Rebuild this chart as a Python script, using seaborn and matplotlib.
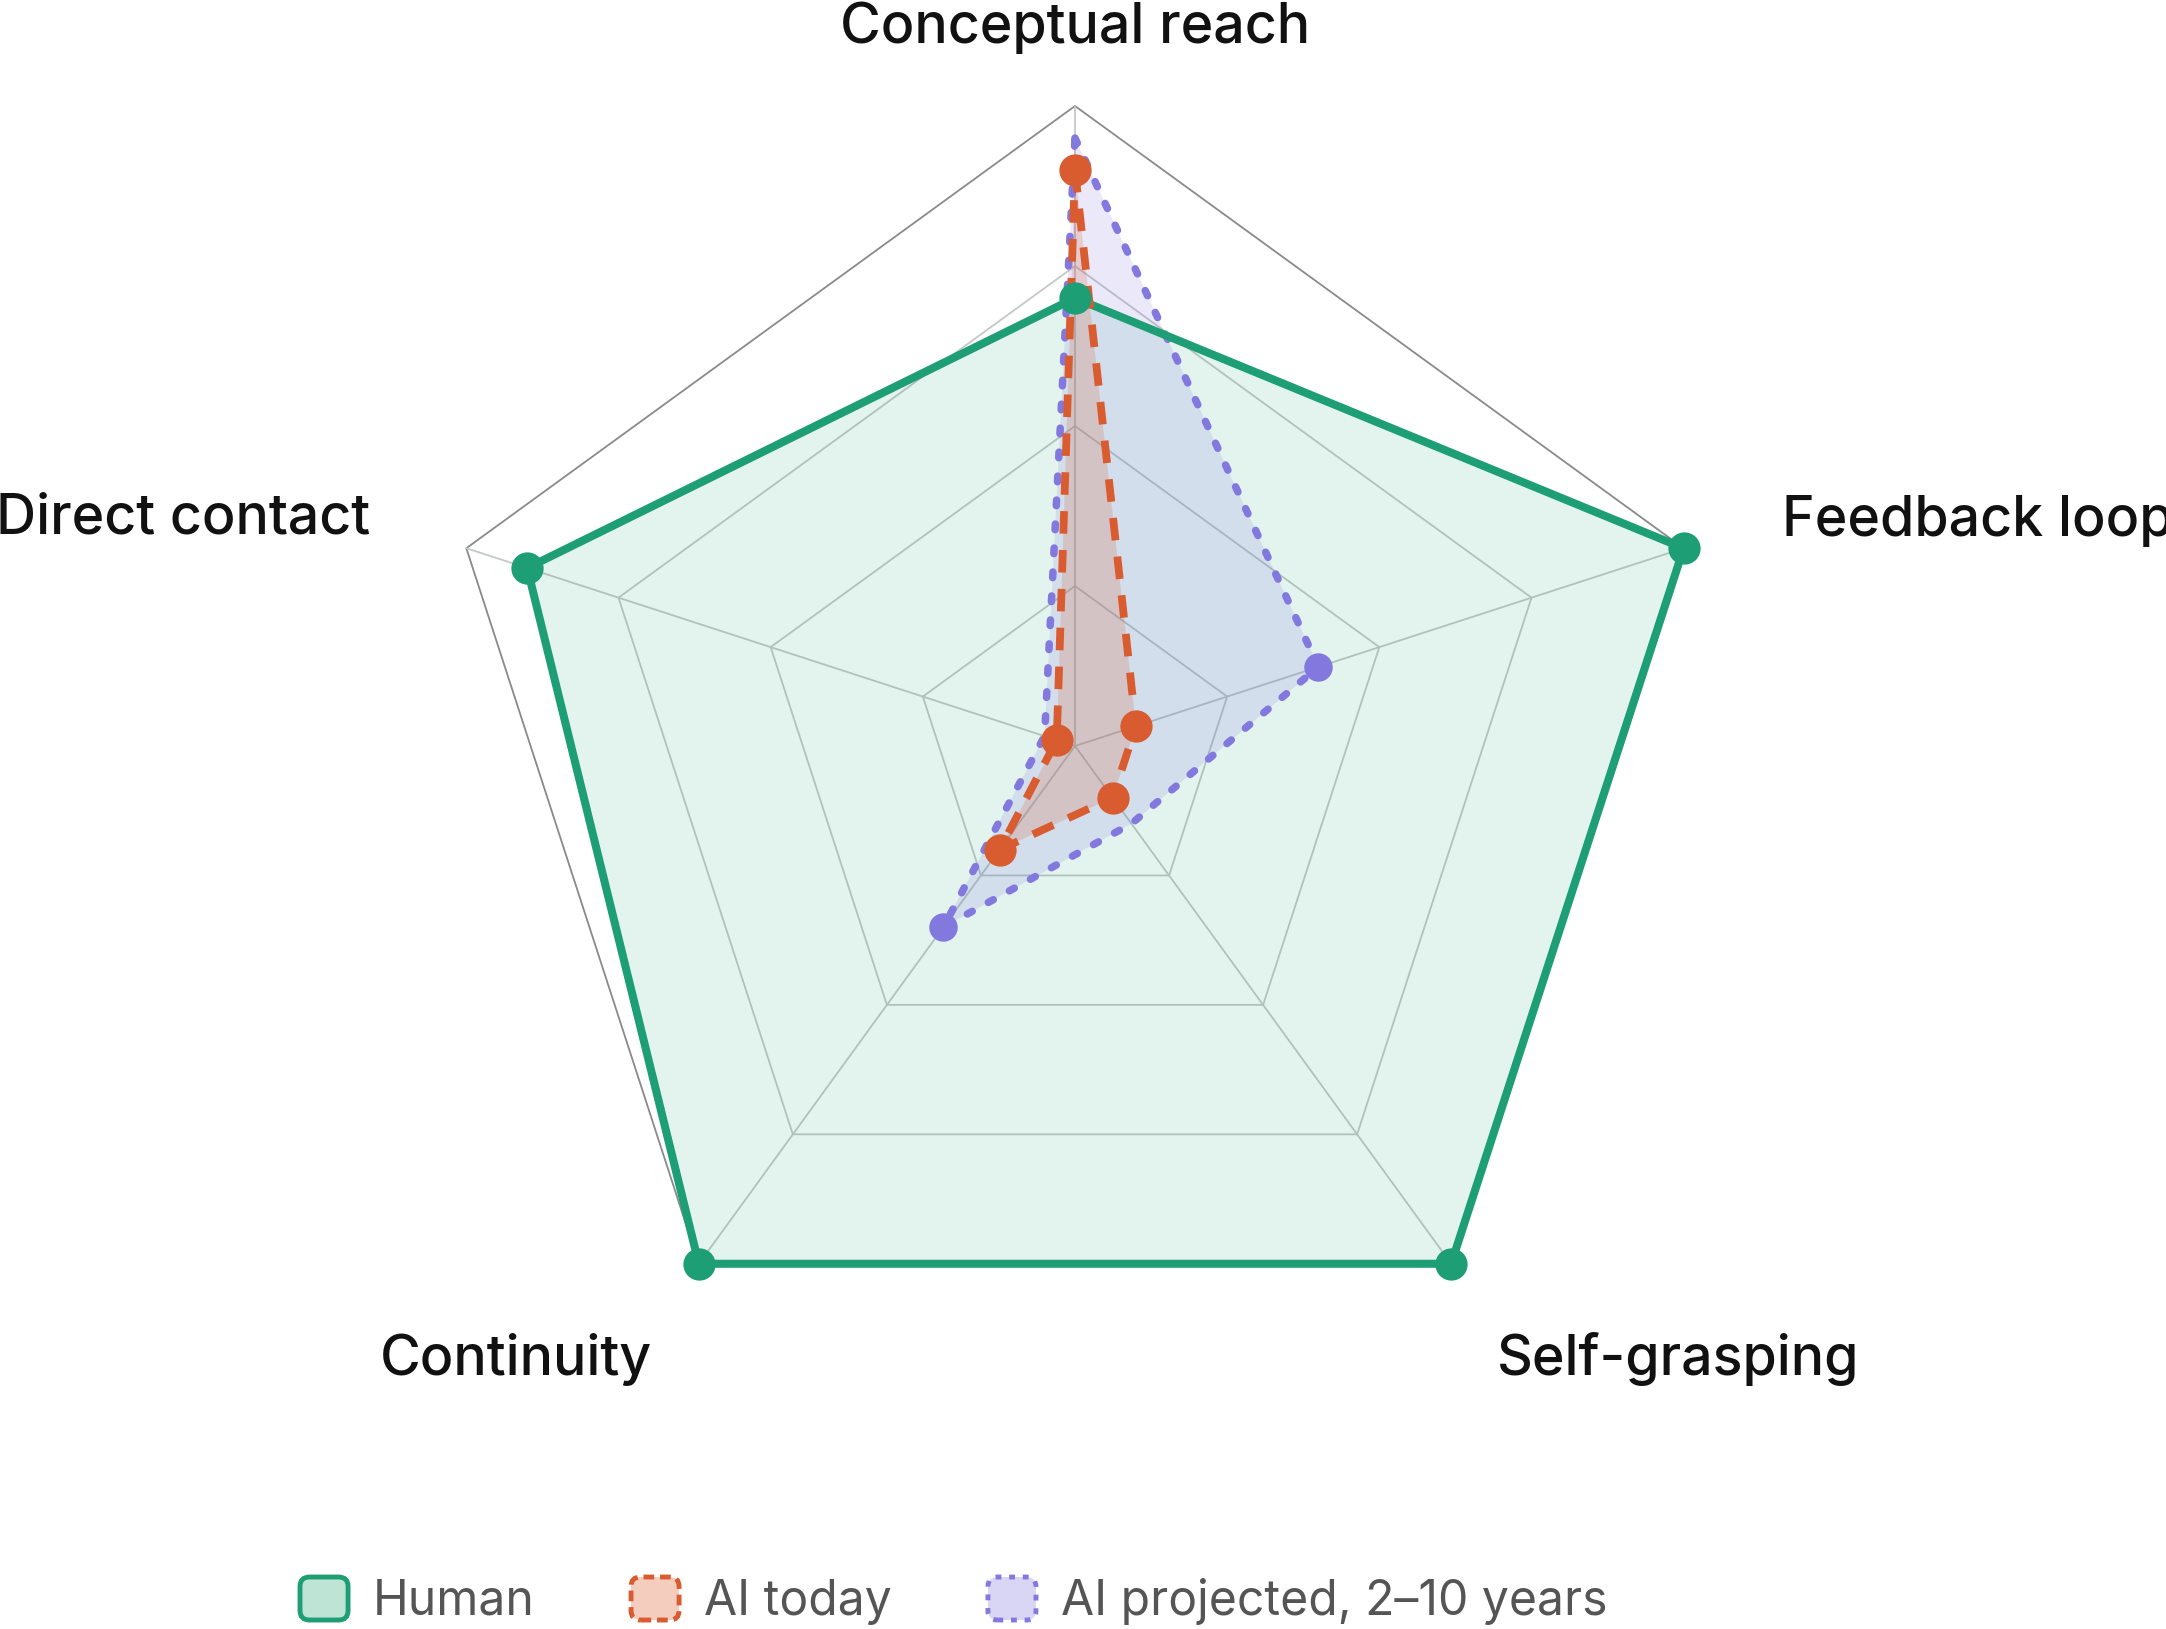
import numpy as np
import matplotlib
matplotlib.use("Agg")
import matplotlib.pyplot as plt
import seaborn as sns
import pandas as pd
from matplotlib.patches import FancyBboxPatch, Patch
from matplotlib.legend_handler import HandlerPatch

# ---------------- data ----------------
categories = ["Conceptual reach", "Feedback loop", "Self-grasping", "Continuity", "Direct contact"]
human = [0.70, 1.00, 1.00, 1.00, 0.90]
ai_today = [0.90, 0.10, 0.10, 0.20, 0.03]
ai_projected = [0.95, 0.40, 0.15, 0.35, 0.05]
projected_marker_shown = [False, True, False, True, False]
series_names = ["Human", "AI today", "AI projected, 2\u201310 years"]
ring_levels = [0.25, 0.50, 0.75, 1.00]

# ---------------- style ----------------
sns.set_theme(style="white")
plt.rcParams["font.family"] = ["Inter", "DejaVu Sans"]

GREEN = "#1d9e74"
ORANGE = "#d95b30"
PURPLE = "#8378de"

W, H, DPI = 2166, 1629, 100
fig = plt.figure(figsize=(W / DPI, H / DPI), dpi=DPI)
fig.patch.set_facecolor("white")

cx, cy, R = 1075, 746, 640
ax = fig.add_axes([(cx - R) / W, (H - cy - R) / H, 2 * R / W, 2 * R / H], projection="polar")
ax.set_theta_offset(np.pi / 2)
ax.set_theta_direction(-1)
ax.grid(False)
ax.spines["polar"].set_visible(False)
ax.patch.set_alpha(0)

n = len(categories)
theta = np.arange(n) * 2 * np.pi / n
theta_c = np.append(theta, theta[0])


def closed(v):
    return np.append(np.asarray(v, float), v[0])


# ---------------- grid ----------------
for lev in ring_levels:
    ax.plot(theta_c, [lev] * (n + 1), color="#8a8a8a" if lev == 1.0 else "#c4c8c7",
            lw=1.3, zorder=1, clip_on=False)
for t in theta:
    ax.plot([t, t], [0, 1], color="#c4c8c7", lw=1.3, zorder=1, clip_on=False)

# ---------------- fills ----------------
ax.fill(theta_c, closed(human), color=GREEN, alpha=0.12, lw=0, zorder=2, clip_on=False)
ax.fill(theta_c, closed(ai_projected), color=PURPLE, alpha=0.17, lw=0, zorder=3, clip_on=False)
ax.fill(theta_c, closed(ai_today), color=ORANGE, alpha=0.20, lw=0, zorder=4, clip_on=False)

# ---------------- lines ----------------
def line_df(vals):
    return pd.DataFrame({"theta": theta_c, "r": closed(vals)})

sns.lineplot(data=line_df(ai_projected), x="theta", y="r", sort=False, estimator=None, ax=ax,
             color=PURPLE, lw=5.4, linestyle=(0, (0.75, 2.45)), dash_capstyle="round",
             zorder=5, clip_on=False)
sns.lineplot(data=line_df(human), x="theta", y="r", sort=False, estimator=None, ax=ax,
             color=GREEN, lw=5.8, solid_joinstyle="round", zorder=6, clip_on=False)
sns.lineplot(data=line_df(ai_today), x="theta", y="r", sort=False, estimator=None, ax=ax,
             color=ORANGE, lw=5.6, linestyle=(0, (2.9, 2.1)), dash_capstyle="butt",
             zorder=7, clip_on=False)

# ---------------- markers ----------------
proj_theta = theta[np.array(projected_marker_shown)]
proj_r = np.array(ai_projected)[np.array(projected_marker_shown)]
sns.scatterplot(x=proj_theta, y=proj_r, ax=ax, color=PURPLE, s=420, linewidth=0, zorder=8, clip_on=False)
sns.scatterplot(x=theta, y=human, ax=ax, color=GREEN, s=540, linewidth=0, zorder=9, clip_on=False)
sns.scatterplot(x=theta, y=ai_today, ax=ax, color=ORANGE, s=540, linewidth=0, zorder=10, clip_on=False)

ax.set_ylim(0, 1)
ax.set_xticks([])
ax.set_yticks([])
ax.set_xlabel("")
ax.set_ylabel("")

# ---------------- category labels ----------------
label_pos = [  # (x px, baseline y px, ha)
    (1075, 43, "center"),
    (1782, 536, "left"),
    (1678, 1375, "center"),
    (516, 1375, "center"),
    (370, 534, "right"),
]
for lab, (x, y, ha) in zip(categories, label_pos):
    fig.text(x / W, 1 - y / H, lab, ha=ha, va="baseline", fontsize=40, color="#111111",
             fontweight=500)

# ---------------- legend ----------------
class RoundBoxHandler(HandlerPatch):
    def create_artists(self, legend, orig_handle, xdescent, ydescent, width, height, fontsize, trans):
        p = FancyBboxPatch((-xdescent, -ydescent), width, height,
                           boxstyle=f"round,pad=0,rounding_size={height * 0.22}",
                           facecolor=orig_handle.get_facecolor(),
                           edgecolor=orig_handle.get_edgecolor(),
                           linestyle=orig_handle.get_linestyle(),
                           linewidth=orig_handle.get_linewidth(),
                           transform=trans)
        return [p]

handles = [
    Patch(facecolor="#bee4d6", edgecolor=GREEN, linewidth=3.5, linestyle="-"),
    Patch(facecolor="#f4cdbf", edgecolor=ORANGE, linewidth=3.5, linestyle=(0, (2.2, 1.2))),
    Patch(facecolor="#d9d6f5", edgecolor=PURPLE, linewidth=3.5, linestyle=(0, (1.2, 1.6))),
]
leg = fig.legend(handles, series_names, loc="center left", bbox_to_anchor=(300 / W, 1 - 1601 / H),
                 ncol=3, frameon=False, fontsize=34.6, handlelength=1.0, handleheight=1.0,
                 handletextpad=0.52, columnspacing=2.0, borderpad=0, borderaxespad=0,
                 labelcolor="#555555", handler_map={Patch: RoundBoxHandler()})

fig.savefig("out.png", dpi=DPI, facecolor="white")
